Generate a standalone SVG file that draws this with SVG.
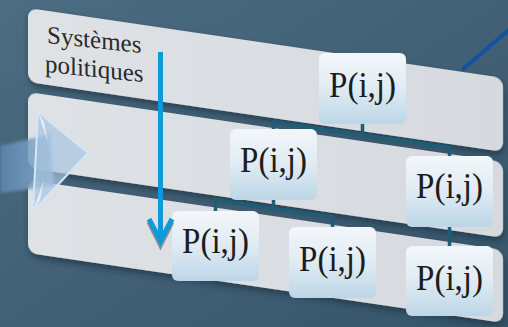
<svg xmlns="http://www.w3.org/2000/svg" width="508" height="327" viewBox="0 0 508 327">
<defs>
<linearGradient id="bg" x1="0" y1="0" x2="1" y2="1">
<stop offset="0" stop-color="#4b6c81"/>
<stop offset="1" stop-color="#37556a"/>
</linearGradient>
<linearGradient id="panel" x1="0" y1="0" x2="1" y2="0">
<stop offset="0" stop-color="#dfe2e5"/>
<stop offset="1" stop-color="#d6dade"/>
</linearGradient>
<linearGradient id="box" x1="0" y1="0" x2="0" y2="1">
<stop offset="0" stop-color="#f3f7fa"/>
<stop offset="0.5" stop-color="#dfebf3"/>
<stop offset="1" stop-color="#bcd6e7"/>
</linearGradient>
<linearGradient id="shaft" x1="0" y1="0" x2="1" y2="0">
<stop offset="0" stop-color="#5b86ad" stop-opacity="0.85"/>
<stop offset="1" stop-color="#8fb2d2" stop-opacity="0.85"/>
</linearGradient>
<filter id="sh" x="-5%" y="-10%" width="115%" height="130%">
<feDropShadow dx="1" dy="4" stdDeviation="3" flood-color="#1b3242" flood-opacity="0.7"/>
</filter>
<filter id="blur"><feGaussianBlur stdDeviation="1.5"/></filter>
<style>
.panel{fill:url(#panel);filter:url(#sh)}
.box{fill:url(#box)}
.lbl{font-family:"Liberation Serif","Times New Roman",serif;font-size:33px;fill:#1c1c1c;text-anchor:middle}
.sys{font-family:"Liberation Serif","Times New Roman",serif;font-size:25px;fill:#2a2a2a}
.conn{stroke:#1d5e76;stroke-width:3.5;fill:none;stroke-linecap:butt}
</style>
</defs>
<rect width="508" height="327" fill="url(#bg)"/>
<line x1="462" y1="70" x2="510" y2="29" stroke="#1352a0" stroke-width="4"/>
<g id="panels">
<rect class="panel" x="0" y="0" width="475" height="74" rx="9" transform="translate(28,8) skewY(8.37)"/>
<rect class="panel" x="0" y="0" width="475" height="76" rx="9" transform="translate(28,92) skewY(8.37)"/>
<rect class="panel" x="0" y="0" width="475" height="73" rx="9" transform="translate(28,180) skewY(8.37)"/>
</g>
<g id="label">
<g transform="translate(47,43) skewY(6)">
<text class="sys" x="0" y="0">Systèmes</text>
<text class="sys" x="-2" y="29">politiques</text>
</g>
</g>
<g id="bigarrow">
<path d="M0,146 L50,134 L54,186 L0,193 Z" fill="url(#shaft)" filter="url(#blur)"/>
<path d="M38,112 L88,153 L33,211 Z" fill="#a7c4df" fill-opacity="0.7" stroke="#d4e6f5" stroke-width="2" stroke-linejoin="round"/>
<path d="M38,112 L48,143 L44,122 Z" fill="#eef6fc" fill-opacity="0.8"/>
<path d="M33,211 L44,180 L40,200 Z" fill="#eef6fc" fill-opacity="0.8"/>
</g>
<g id="connectors">
<path class="conn" d="M273.5,129 V122 L449.5,147.6 V156"/>
<path class="conn" d="M362.5,135 V124"/>
<path class="conn" d="M215.5,211 V200 L332.5,217 V227"/>
<path class="conn" d="M273.5,208.4 V200"/>
<path class="conn" d="M449.5,227 V246"/>
</g>
<g id="n1"><rect class="box" x="319" y="53" width="87" height="71" rx="6"/><text class="lbl" transform="translate(362.5,97) scale(1,1.08)">P(i,j)</text></g>
<g id="n2"><rect class="box" x="230" y="129" width="87" height="71" rx="6"/><text class="lbl" transform="translate(273.5,172) scale(1,1.08)">P(i,j)</text></g>
<g id="n3"><rect class="box" x="406" y="156" width="87" height="71" rx="6"/><text class="lbl" transform="translate(449.5,198) scale(1,1.08)">P(i,j)</text></g>
<g id="n4"><rect class="box" x="172" y="211" width="87" height="70" rx="6"/><text class="lbl" transform="translate(215.5,253) scale(1,1.08)">P(i,j)</text></g>
<g id="n5"><rect class="box" x="289" y="227" width="87" height="71" rx="6"/><text class="lbl" transform="translate(332.5,271) scale(1,1.08)">P(i,j)</text></g>
<g id="n6"><rect class="box" x="406" y="246" width="87" height="70" rx="6"/><text class="lbl" transform="translate(449.5,290) scale(1,1.08)">P(i,j)</text></g>
<g id="downarrow">
<path d="M149,220 L160.5,243 L172,220" fill="none" stroke="#6b6b6b" stroke-width="5" stroke-opacity="0.7" transform="translate(0,2)"/>
<line x1="160.5" y1="52" x2="160.5" y2="240" stroke="#0d9ad8" stroke-width="5"/>
<path d="M149,219 L160.5,241 L172,219" fill="none" stroke="#0d9ad8" stroke-width="5"/>
</g>
</svg>
